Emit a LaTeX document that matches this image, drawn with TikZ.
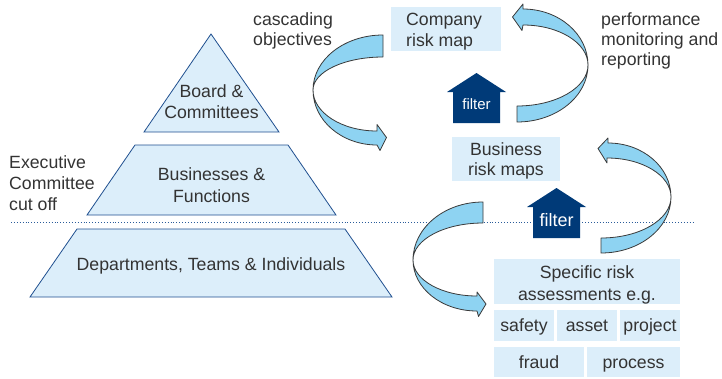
\documentclass[tikz,border=0pt]{standalone}
\usepackage{fontspec}
\setmainfont{Liberation Sans}
\usetikzlibrary{calc}

\definecolor{boxfill}{HTML}{DCEEFA}
\definecolor{tierline}{HTML}{1F4F8F}
\definecolor{ribbon}{HTML}{8ED3F2}
\definecolor{ribbonline}{HTML}{3A3A3A}
\definecolor{navy}{HTML}{003A78}
\definecolor{ink}{HTML}{333333}
\definecolor{cutline}{HTML}{2A5C9A}

% stacked lines: first line's baseline is the node's base
\newcommand\cstack[2][21pt]{\vtop{\baselineskip=#1\halign{\hfil##\hfil\cr#2\crcr}}}
\newcommand\lstack[2][20.5pt]{\vtop{\baselineskip=#1\halign{##\hfil\cr#2\crcr}}}

\tikzset{
  txt/.style={font=\fontsize{17.7}{21}\selectfont, text=ink, inner sep=0pt},
  tier/.style={fill=boxfill, draw=tierline, line width=0.8pt, line join=miter},
  box/.style={fill=boxfill, draw=none, inner sep=0pt},
  cell/.style={box, txt, text height=12.7pt, text depth=0pt},
  ribbonpart/.style={fill=ribbon, draw=ribbonline, line width=0.8pt, line join=round},
  filterarrow/.style={fill=navy, draw=none},
  filtertxt/.style={text=white, inner sep=0pt},
}

\begin{document}
\begin{tikzpicture}[x=1pt, y=-1pt]
\useasboundingbox (0,0) rectangle (722,378);

% ---- pyramid ----
\draw[tier] (144,132) -- (211,34) -- (279,132) -- cycle;
\draw[tier] (87,215) -- (135,145) -- (288,145) -- (336,215) -- cycle;
\draw[tier] (30,297) -- (77,229) -- (345,229) -- (392,297) -- cycle;

\node[txt, anchor=base] (board) at (211.5,97) {\cstack{Board \&\cr Committees}};
\node[txt, anchor=base] (businesses) at (211.5,180) {\cstack[22.5pt]{Businesses \&\cr Functions}};
\node[txt, anchor=base] (depts) at (211,270) {Departments, Teams \& Individuals};

% ---- cut-off line ----
\coordinate (cutL) at (11,222);
\coordinate (cutR) at (695,222);
\draw[cutline, dotted, line width=0.9pt] (cutL) -- (cutR);

\node[txt, anchor=base west] (exec) at (9,168) {\lstack[21pt]{Executive\cr Committee\cr cut off}};
\node[txt, anchor=base west] (cascade) at (253,25) {\lstack{cascading\cr objectives}};
\node[txt, anchor=base west] (perf) at (601,25) {\lstack[20pt]{performance\cr monitoring and\cr reporting}};

% ---- risk map boxes ----
\node[box, minimum width=110pt, minimum height=44pt] (company) at (446,29) {};
\node[txt, anchor=base west] (companytxt) at (406,25) {\lstack[21pt]{Company\cr risk map}};

\node[box, minimum width=108pt, minimum height=44pt] (business) at (506,159) {};
\node[txt, anchor=base] (businesstxt) at (506,155) {\cstack[20.5pt]{Business\cr risk maps}};

\node[box, minimum width=186pt, minimum height=45pt] (specific) at (587,281.5) {};
\node[txt, anchor=base] (specifictxt) at (587,278) {\cstack[22pt]{Specific risk\cr assessments e.g.}};

\node[cell, minimum width=60pt, minimum height=31pt] (safety) at (524,325.5) {safety};
\node[cell, minimum width=60pt, minimum height=31pt] (asset) at (587,325.5) {asset};
\node[cell, minimum width=60pt, minimum height=31pt] (project) at (650,325.5) {project};
\node[cell, minimum width=90pt, minimum height=30pt] (fraud) at (539,362) {fraud};
\node[cell, minimum width=93pt, minimum height=30pt] (process) at (633.5,362) {process};

% ---- filter arrows ----
\path[filterarrow] (453,123) -- (453,92) -- (447,92) -- (476.5,73) -- (506,92) -- (500,92) -- (500,123) -- cycle;
\node[filtertxt, anchor=base, font=\fontsize{15}{18}\selectfont] (filter1) at (476.5,109) {filter};

\path[filterarrow] (533,238) -- (533,207) -- (527,207) -- (556.5,188) -- (586,207) -- (580,207) -- (580,238) -- cycle;
\node[filtertxt, anchor=base, font=\fontsize{18}{21}\selectfont] (filter2) at (556.5,226) {filter};

% ---- twisted ribbon arrows ----
% cascading objectives (top left)
\draw[ribbonpart] (383,35) .. controls (344.3,35) and (313,59.6) .. (313,90)
  .. controls (313,71.8) and (344.3,57) .. (383,57) -- cycle;
\draw[ribbonpart] (313,90) .. controls (313,120.4) and (341.7,145) .. (377,145)
  -- (380,150.5) -- (386.5,137.5) -- (377,124.5) -- (377,131)
  .. controls (341.7,131) and (313,112.6) .. (313,90) -- cycle;

% performance monitoring and reporting (top right)
\draw[ribbonpart] (517,122) .. controls (556.2,122) and (588,96.5) .. (588,65)
  .. controls (588,87.6) and (556.2,106) .. (517,106) -- cycle;
\draw[ribbonpart] (588,65) .. controls (588,34.1) and (558.9,9) .. (523,9)
  -- (523,4) -- (512.5,17) -- (522,30.5) -- (523,25)
  .. controls (558.9,25) and (588,42.9) .. (588,65) -- cycle;

% business to specific (bottom left)
\draw[ribbonpart] (483,202) .. controls (444.3,202) and (413,228) .. (413,260)
  .. controls (413,239.6) and (444.3,223) .. (483,223) -- cycle;
\draw[ribbonpart] (413,260) .. controls (413,288.2) and (441.7,311) .. (477,311)
  -- (478.5,316.5) -- (486,304) -- (477,292) -- (477,296)
  .. controls (441.7,296) and (413,279.9) .. (413,260) -- cycle;

% specific to business (bottom right)
\draw[ribbonpart] (601,253) .. controls (639.7,253) and (671,227.9) .. (671,197)
  .. controls (671,219.6) and (639.7,238) .. (601,238) -- cycle;
\draw[ribbonpart] (671,197) .. controls (671,167.2) and (642.8,143) .. (608,143)
  -- (608,138) -- (598,148.5) -- (607,163) -- (607,158)
  .. controls (642.3,158) and (671,175.5) .. (671,197) -- cycle;
\end{tikzpicture}
\end{document}
